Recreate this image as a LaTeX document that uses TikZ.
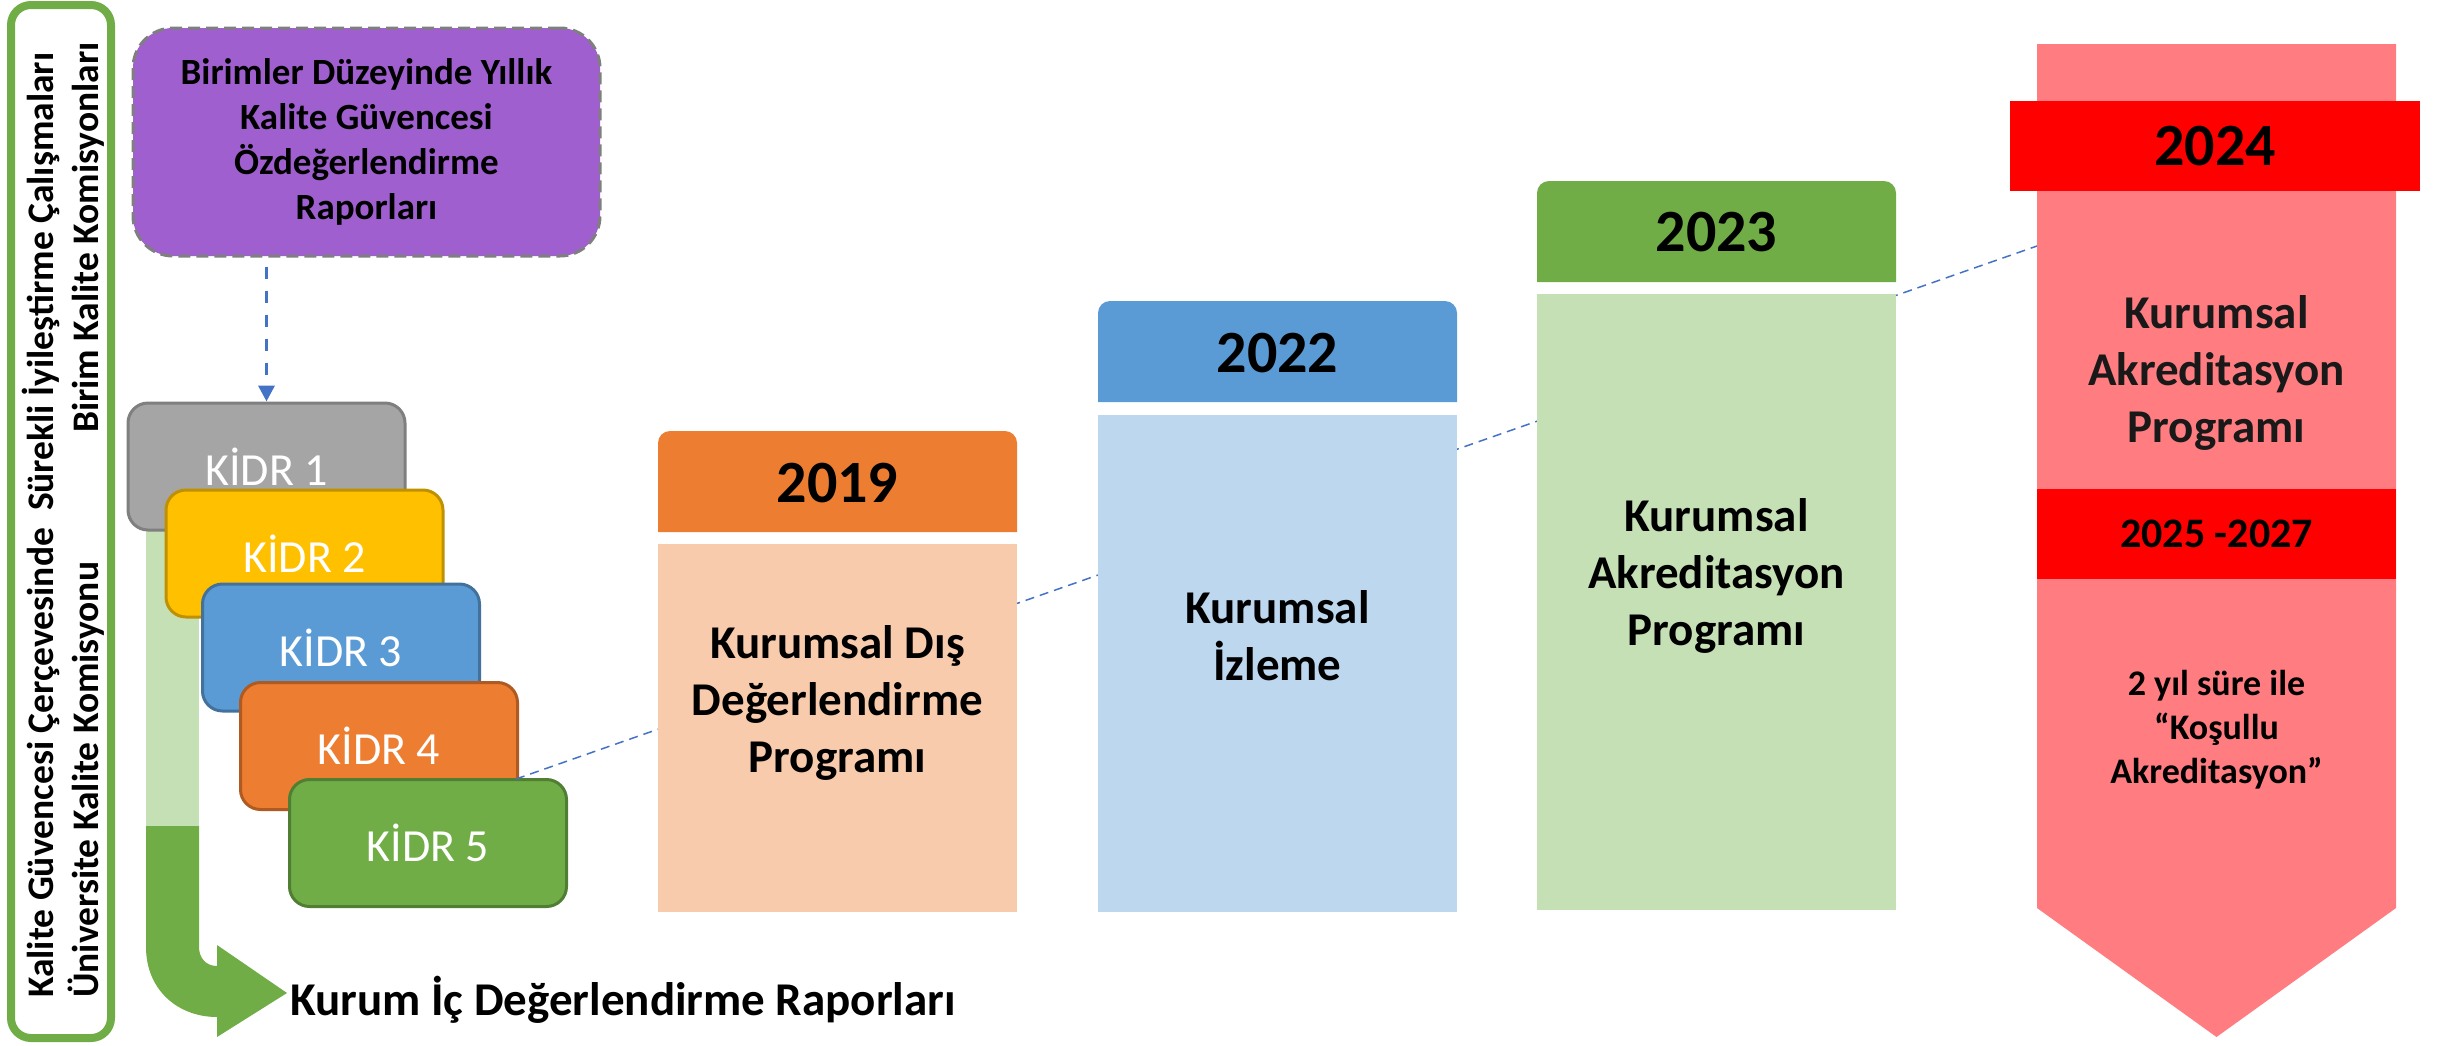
\documentclass[tikz,border=0pt]{standalone}
\usepackage{fontspec}
\setmainfont{Carlito}
\usetikzlibrary{arrows.meta}
\definecolor{frameg}{HTML}{70AD47}
\definecolor{purp}{HTML}{9F5FCE}
\definecolor{pbord}{HTML}{7F7F7F}
\definecolor{ablue}{HTML}{4472C4}
\definecolor{kgray}{HTML}{A5A5A5}\definecolor{kgrayd}{HTML}{7F7F7F}
\definecolor{kgold}{HTML}{FFC000}\definecolor{kgoldd}{HTML}{BF9000}
\definecolor{kblue}{HTML}{5B9BD5}\definecolor{kblued}{HTML}{41719C}
\definecolor{korange}{HTML}{ED7D31}\definecolor{korganged}{HTML}{AE5A21}
\definecolor{kgreen}{HTML}{70AD47}\definecolor{kgreend}{HTML}{507E32}
\definecolor{lgreen}{HTML}{C5E0B4}
\definecolor{cnb}{HTML}{F8CBAD}
\definecolor{ctb}{HTML}{BDD7EE}
\definecolor{cgb}{HTML}{C5E0B4}
\definecolor{rpanel}{HTML}{FF7C80}
\definecolor{rband}{HTML}{FF0000}
\newcommand\myfs[2]{\fontsize{#1pt}{#2pt}\selectfont}
\begin{document}
\begin{tikzpicture}[x=1pt,y=-1pt,
  kbox/.style={rectangle, rounded corners=20pt, line width=3pt, minimum width=277pt,
    minimum height=127pt, inner sep=0pt, text=white, font=\myfs{46}{56}},
  yeartxt/.style={font=\bfseries\myfs{60}{72}, text=black, inner sep=0pt},
  bodytxt/.style={font=\bfseries\myfs{47}{57}, align=center, text=black, inner sep=0pt},
  vtxt/.style={font=\bfseries\myfs{37.5}{45}, rotate=90, inner sep=0pt},
  thindash/.style={draw=ablue, line width=1.5pt, dash pattern=on 9pt off 6pt}]
\useasboundingbox (0,0) rectangle (2445,1045);
% left frame
\draw[frameg, line width=8pt, rounded corners=20pt] (11,5) rectangle (111,1038);
\node[vtxt, anchor=base west] (v1) at (53,998) {Kalite Güvencesi Çerçevesinde\ \ Sürekli İyileştirme Çalışmaları};
\node[vtxt, anchor=base west] (v2) at (98,998) {Üniversite Kalite Komisyonu};
\node[vtxt, anchor=base east] (v3) at (98,42) {Birim Kalite Komisyonları};
% green strip and bent arrow
\fill[lgreen] (146,520) rectangle (199,910);
\fill[kgreen] (146,826) -- (199,826) -- (199,947) .. controls (199,958) and (206,966) .. (217,966)
  -- (217,945) -- (287,993) -- (217,1037) -- (217,1017)
  .. controls (178,1017) and (146,990) .. (146,947) -- cycle;
% KIDR boxes
\node[kbox, fill=kgray, draw=kgrayd] (k1) at (266.5,466.5) {KİDR 1};
\node[kbox, fill=kgold, draw=kgoldd] (k2) at (304.5,553.5) {KİDR 2};
\node[kbox, fill=kblue, draw=kblued] (k3) at (341,647.5) {KİDR 3};
\node[kbox, fill=korange, draw=korganged] (k4) at (379,746) {KİDR 4};
\node[kbox, fill=kgreen, draw=kgreend] (k5) at (428,843) {KİDR 5};
% dashed timeline line
\coordinate (ls) at (516,779);
\coordinate (pw) at (2037,246);
\draw[thindash] (ls) -- (pw);
% columns
\fill[korange] (658,532) [rounded corners=12pt] -- (658,431) -- (1017,431) [sharp corners] -- (1017,532) -- cycle;
\node[yeartxt] (y19) at (837.5,483) {2019};
\node[fill=cnb, minimum width=359pt, minimum height=368pt, inner sep=0pt, anchor=north west] (b19) at (658,544) {};
\node[bodytxt] (t19) at (837.5,703) {Kurumsal Dış\\Değerlendirme\\Programı};
\fill[kblue] (1098,402) [rounded corners=12pt] -- (1098,301) -- (1457,301) [sharp corners] -- (1457,402) -- cycle;
\node[yeartxt] (y22) at (1277.5,353) {2022};
\node[fill=ctb, minimum width=359pt, minimum height=497pt, inner sep=0pt, anchor=north west] (b22) at (1098,415) {};
\node[bodytxt] (t22) at (1277.5,636) {Kurumsal\\İzleme};
\fill[kgreen] (1537,282) [rounded corners=12pt] -- (1537,181) -- (1896,181) [sharp corners] -- (1896,282) -- cycle;
\node[yeartxt] (y23) at (1716.5,232) {2023};
\node[fill=cgb, minimum width=359pt, minimum height=616pt, inner sep=0pt, anchor=north west] (b23) at (1537,294) {};
\node[bodytxt] (t23) at (1716.5,576) {Kurumsal\\Akreditasyon\\Programı};
% red panel
\fill[rpanel] (2037,44) -- (2396,44) -- (2396,908) -- (2216.5,1037) -- (2037,908) -- cycle;
\node[fill=rband, minimum width=410pt, minimum height=90pt, inner sep=0pt, yeartxt] (y24) at (2215,146) {2024};
\node[bodytxt, text=black!90] (t24) at (2216.5,373) {Kurumsal\\Akreditasyon\\Programı};
\node[fill=rband, minimum width=359pt, minimum height=90pt, inner sep=0pt, font=\bfseries\myfs{42}{50}] (y25) at (2216.5,534) {2025 -2027};
\node[font=\bfseries\myfs{36}{44}, align=center, inner sep=0pt] (t25) at (2216.5,730) {2 yıl süre ile\\“Koşullu\\Akreditasyon”};
% purple box
\node[fill=purp, draw=pbord, line width=3pt, dash pattern=on 12pt off 6pt, rounded corners=40pt,
  minimum width=467pt, minimum height=228pt, inner sep=0pt, align=center,
  font=\bfseries\myfs{37}{45}] (pb) at (366.5,142) {Birimler Düzeyinde Yıllık\\Kalite Güvencesi\\Özdeğerlendirme\\Raporları};
\draw[ablue, line width=3.5pt, dash pattern=on 12pt off 12pt, shorten <=9pt,
  -{Triangle[width=16pt,length=16pt]}] (pb.south -| k1.north) -- (k1.north);
% bottom label
\node[font=\bfseries\myfs{47}{57}, anchor=base west, inner sep=0pt] (kic) at (290,1015) {Kurum İç Değerlendirme Raporları};
\end{tikzpicture}
\end{document}
